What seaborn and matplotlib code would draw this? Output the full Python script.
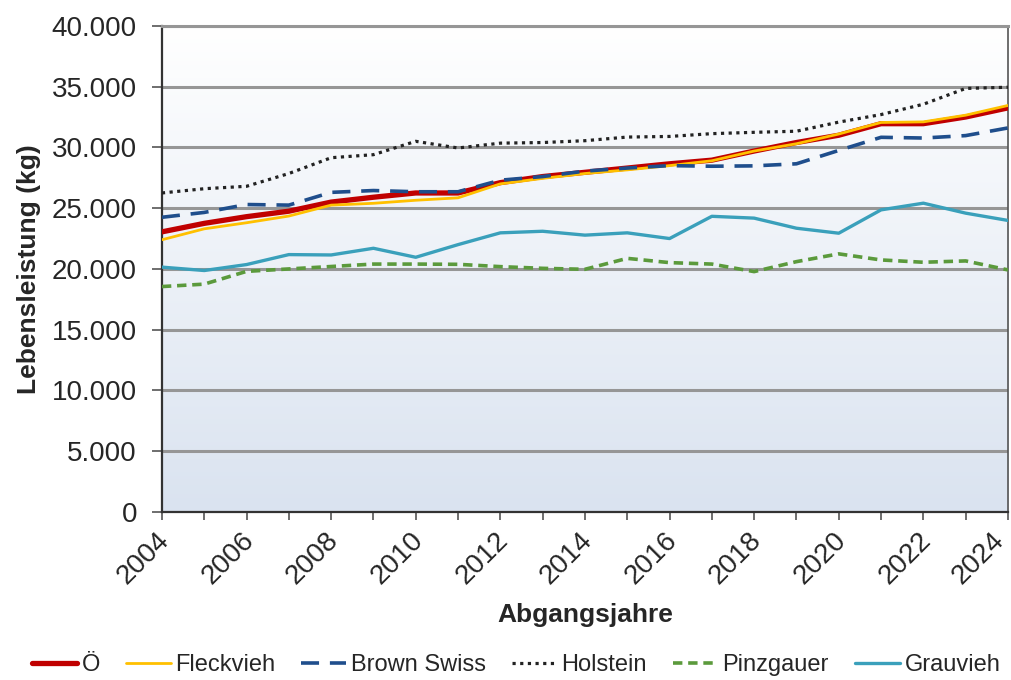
import numpy as np
import pandas as pd
import matplotlib.pyplot as plt
import seaborn as sns
from matplotlib.colors import LinearSegmentedColormap
from matplotlib.ticker import FuncFormatter, MultipleLocator
import matplotlib.transforms as mtransforms

# data
years = list(range(2004, 2025))
oe = [23050, 23750, 24300, 24750, 25500, 25900, 26250, 26250, 27100, 27600, 27950,
      28300, 28650, 28950, 29700, 30400, 31000, 31950, 31950, 32500, 33250]
fleckvieh = [22400, 23300, 23800, 24350, 25250, 25400, 25650, 25850, 27000, 27450, 27850,
             28150, 28500, 28900, 29700, 30300, 31100, 32050, 32100, 32650, 33450]
brown_swiss = [24250, 24650, 25300, 25250, 26300, 26450, 26350, 26350, 27300, 27600, 28050,
               28300, 28500, 28450, 28480, 28650, 29750, 30830, 30770, 30970, 31600]
holstein = [26250, 26600, 26800, 27850, 29150, 29400, 30500, 29950, 30350, 30400, 30550,
            30850, 30900, 31130, 31240, 31330, 32080, 32700, 33550, 34850, 34950]
pinzgauer = [18550, 18750, 19800, 20000, 20200, 20400, 20400, 20380, 20190, 20050, 19970,
             20870, 20520, 20400, 19780, 20600, 21240, 20740, 20550, 20660, 19920]
grauvieh = [20150, 19870, 20360, 21180, 21150, 21700, 20960, 22000, 22970, 23100, 22780,
            22970, 22500, 24330, 24180, 23350, 22940, 24860, 25410, 24590, 23990]

series = ["Ö", "Fleckvieh", "Brown Swiss", "Holstein", "Pinzgauer", "Grauvieh"]
values = [oe, fleckvieh, brown_swiss, holstein, pinzgauer, grauvieh]

sns.set_style("white")
plt.rcParams['font.family'] = ['Liberation Sans', 'DejaVu Sans']

fig = plt.figure(figsize=(10.12, 6.8), dpi=100)
ax = fig.add_axes([0.160, 0.247, 0.836, 0.715])

# gradient plot area background
grad = np.linspace(0, 1, 256).reshape(-1, 1)
cmap = LinearSegmentedColormap.from_list("bg", ["#ffffff", "#dae3f0"])
ax.imshow(grad, cmap=cmap, aspect="auto", extent=[0, 1, 0, 1],
          transform=ax.transAxes, zorder=0)

styles = {
    "Ö": dict(color="#c00000", lw=3.8, ls="-"),
    "Fleckvieh": dict(color="#ffc000", lw=2.0, ls="-"),
    "Brown Swiss": dict(color="#1f4e8c", lw=2.6, ls=(0, (5, 3))),
    "Holstein": dict(color="#222222", lw=2.3, ls=(0, (1, 1.4))),
    "Pinzgauer": dict(color="#5b9a3c", lw=2.6, ls=(0, (2.6, 1.6))),
    "Grauvieh": dict(color="#3aa0bb", lw=2.4, ls="-"),
}

for name, vals in zip(series, values):
    s = styles[name]
    sns.lineplot(x=years, y=vals, ax=ax, color=s["color"], linewidth=s["lw"],
                 linestyle=s["ls"], label=name, zorder=3)

ax.set_xlim(2004, 2024)
ax.set_ylim(0, 40000)
ax.yaxis.set_major_locator(MultipleLocator(5000))
ax.yaxis.set_major_formatter(FuncFormatter(lambda v, p: f"{int(v):,}".replace(",", ".")))
ax.set_xticks(years, minor=True)
ax.set_xticks(years[::2])
ax.set_xticklabels([str(y) for y in years[::2]], rotation=45, ha="right",
                   rotation_mode="anchor")

ax.grid(axis="y", color="#969696", linewidth=2.2, zorder=1)
ax.set_axisbelow(True)
for side in ["left", "bottom"]:
    ax.spines[side].set_color("#333333")
    ax.spines[side].set_linewidth(1.6)
ax.spines["right"].set_color("#555555")
ax.spines["right"].set_linewidth(1.2)
ax.spines["top"].set_color("#969696")
ax.spines["top"].set_linewidth(2.2)

ax.tick_params(axis="y", which="major", direction="out", length=7, width=1.2,
               color="#555555", labelsize=20, pad=11, left=True)
ax.tick_params(axis="x", which="both", direction="out", length=6, width=1.2,
               color="#555555", labelsize=20, pad=5, bottom=True)

# nudge the rotated year labels a bit left; the last one a bit more so it stays inside
xlabels = ax.get_xticklabels()
for i, lbl in enumerate(xlabels):
    dx = -12 if i == len(xlabels) - 1 else -4
    offset = mtransforms.ScaledTranslation(dx / 72, 0, fig.dpi_scale_trans)
    lbl.set_transform(lbl.get_transform() + offset)

ax.set_ylabel("Lebensleistung (kg)", fontsize=19, fontweight="bold", labelpad=8)
ax.set_xlabel("Abgangsjahre", fontsize=19, fontweight="bold", labelpad=10)

handles, labels = ax.get_legend_handles_labels()
ax.legend_.remove()
fig.legend(handles, labels, loc="center", bbox_to_anchor=(0.51, 0.022), ncol=6,
           frameon=False, fontsize=17, handlelength=1.9, handletextpad=0.2,
           columnspacing=1.1, borderaxespad=0)

plt.savefig("out.png", dpi=100)
plt.close()
